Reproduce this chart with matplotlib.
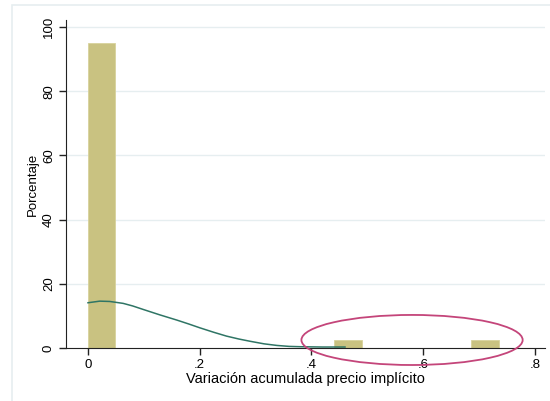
import numpy as np
import matplotlib
matplotlib.use('Agg')
import matplotlib.pyplot as plt
from matplotlib.patches import Ellipse, Rectangle

plt.rcParams['font.family'] = ['Liberation Sans', 'DejaVu Sans']

# histogram bins (width ~0.049) and percentages
bin_width = 0.049
bin_edges = np.arange(16) * bin_width
bin_pct = [95, 0, 0, 0, 0, 0, 0, 0, 0, 2.5, 0, 0, 0, 0, 2.5]

# kernel density curve
kd_x = [0.0, 0.021, 0.039, 0.063, 0.08, 0.099, 0.129, 0.159, 0.18, 0.2, 0.225, 0.248, 0.27,
        0.29, 0.315, 0.338, 0.36, 0.38, 0.42, 0.46]
kd_y = [14.1, 14.6, 14.5, 13.9, 13.1, 12.0, 10.3, 8.7, 7.5, 6.3, 4.9, 3.7, 2.8,
        2.1, 1.3, 0.8, 0.5, 0.4, 0.3, 0.3]

x_ticks = [0, 0.2, 0.4, 0.6, 0.8]
x_labels = ['0', '.2', '.4', '.6', '.8']
y_ticks = [0, 20, 40, 60, 80, 100]

bar_color = '#c9c281'
line_color = '#2f7565'
grid_color = '#e6eef0'

fig = plt.figure(figsize=(5.5, 4.01), dpi=100)
# light outer frame like the graph region
fig.patches.append(Rectangle((12 / 550, -0.1), 1.2, 1 - 5 / 401 + 0.1, transform=fig.transFigure,
                             fill=False, edgecolor=grid_color, linewidth=1.2))

ax = fig.add_axes([66 / 550, 53 / 401, 479 / 550, 328 / 401])
ax.bar(bin_edges[:-1], bin_pct, width=bin_width, align='edge',
       color=bar_color, edgecolor='#d8d29c', linewidth=0.6, zorder=2)
ax.plot(kd_x, kd_y, color=line_color, linewidth=1.1, zorder=3)

ax.set_xlim(-0.0394, 0.818)
ax.set_ylim(0, 102.2)
ax.set_xticks(x_ticks)
ax.set_xticklabels(x_labels)
ax.set_yticks(y_ticks)
ax.set_yticklabels([str(v) for v in y_ticks], rotation=90, va='center')
for v in y_ticks[1:]:
    ax.axhline(v, color=grid_color, linewidth=1.0, zorder=0)

ax.tick_params(axis='both', labelsize=9.5, length=5, width=1, color='#222222', pad=3)
ax.spines['top'].set_visible(False)
ax.spines['right'].set_visible(False)
ax.spines['left'].set_color('#222222')
ax.spines['bottom'].set_color('#222222')
ax.set_xlabel('Variación acumulada precio implícito', fontsize=10.5, labelpad=1)
ax.set_ylabel('Porcentaje', fontsize=9.5, labelpad=3)

# highlight ellipse
ell = Ellipse((0.58, 2.5), 0.396, 15.6, fill=False, edgecolor='#c4457a',
              linewidth=1.3, clip_on=False, zorder=4)
ax.add_patch(ell)

fig.savefig('out.png', dpi=100)
